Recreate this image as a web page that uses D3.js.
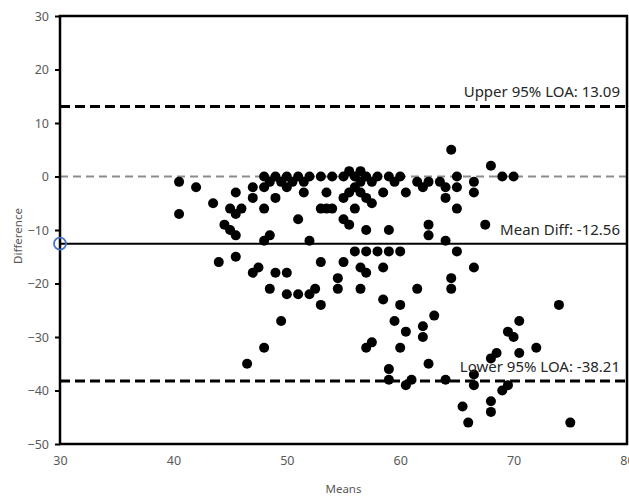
<!DOCTYPE html>
<html>
<head>
<meta charset="utf-8">
<script src="https://cdn.jsdelivr.net/npm/d3@7"></script>
<style>
  body { margin: 0; background: #fff; }
  text { font-family: "Noto Sans", "Open Sans", sans-serif; }
</style>
</head>
<body>
<svg id="chart" width="629" height="497"></svg>
<script>
// Bland-Altman plot: mean of the two methods vs their difference
const means = [40.5, 40.5, 42, 43.5, 44, 44.5, 45, 45.5, 45, 46, 45.5, 45.5, 45.5, 47, 47, 47, 47.5,
  48, 48, 48, 48.5, 48, 48.5, 48.5, 48, 46.5, 49, 49, 49, 49.5, 49.5, 50, 50, 50, 50, 50.5,
  51, 51, 51, 51.5, 51.5, 52, 52, 52, 52.5, 53, 53, 53, 53, 53.5, 53.5, 54, 54, 54.5, 54.5,
  55, 55, 55, 55, 55.5, 55.5, 55.5, 56, 56, 56, 56, 56.5, 56.5, 56.5, 56.5, 56.5,
  57, 57, 57, 57, 57, 57, 57.5, 57.5, 57.5, 58, 58, 58.5, 58.5, 58.5, 59, 59, 59, 59, 59,
  59.5, 59.5, 60, 60, 60, 60, 60.5, 60.5, 60.5, 61, 61.5, 61.5, 62, 62, 62, 62.5, 62.5, 62.5, 62.5,
  63, 63.5, 64, 64, 64, 64, 64.5, 64.5, 64.5, 65, 65, 65, 65, 65.5, 66, 66.5, 66.5, 66.5, 66.5, 66.5,
  67.5, 68, 68, 68, 68, 68.5, 69, 69, 69.5, 69.5, 70, 70, 70.5, 70.5, 72, 74, 75];
const diffs = [-1, -7, -2, -5, -16, -9, -10, -11, -6, -6, -7, -3, -15, -2, -4, -18, -17,
  0, -2, -6, -1, -12, -11, -21, -32, -35, 0, -4, -18, -1, -27, 0, -2, -18, -22, -1,
  0, -8, -22, -1, -3, 0, -12, -22, -21, 0, -6, -16, -24, -3, -6, 0, -6, -19, -21,
  0, -4, -8, -16, 1, -3, -9, 0, -2, -6, -14, 1, -1, -3, -17, -21,
  0, -4, -10, -14, -18, -32, -1, -5, -31, 0, -14, -3, -17, -23, 0, -10, -14, -36, -38,
  -1, -27, 0, -14, -24, -32, -3, -29, -39, -38, -1, -21, -2, -28, -30, -1, -9, -11, -35,
  -26, -1, -2, -4, -12, -38, 5, -19, -21, 0, -2, -6, -14, -43, -46, -1, -3, -17, -37, -39,
  -9, 2, -34, -42, -44, -33, 0, -40, -29, -39, 0, -30, -27, -33, -32, -24, -46];

const meanDiff = -12.56, upperLOA = 13.09, lowerLOA = -38.21;
const xTicks = [30, 40, 50, 60, 70, 80];
const yTicks = [30, 20, 10, 0, -10, -20, -30, -40, -50];

const svg = d3.select("#chart");
const plotL = 60, plotR = 627, plotT = 16, plotB = 444;

const x = d3.scaleLinear().domain([30, 80]).range([plotL, plotR]);
const y = d3.scaleLinear().domain([-50, 30]).range([plotB, plotT]);

// y axis with short outer ticks
const yAxis = svg.append("g")
  .attr("transform", `translate(${plotL},0)`)
  .call(d3.axisLeft(y).tickValues(yTicks).tickSize(5).tickPadding(6));
yAxis.select(".domain").remove();
yAxis.selectAll("line").attr("stroke", "#000").attr("stroke-width", 2);
yAxis.selectAll("text").attr("fill", "#595959").style("font-size", "12.5px")
  .style("font-family", '"Noto Sans", sans-serif');

// x axis labels only (80 runs off the right edge, as in the original)
const xAxis = svg.append("g")
  .attr("transform", `translate(0,${plotB})`)
  .call(d3.axisBottom(x).tickValues(xTicks).tickSize(0).tickPadding(12));
xAxis.select(".domain").remove();
xAxis.selectAll("text").attr("fill", "#595959").style("font-size", "12.5px")
  .style("font-family", '"Noto Sans", sans-serif');

// reference lines
const refs = [
  { v: 0, color: "#8c8c8c", width: 2, dash: "8,5" },
  { v: upperLOA, color: "#000", width: 3, dash: "10,5" },
  { v: lowerLOA, color: "#000", width: 3, dash: "10,5" },
  { v: meanDiff, color: "#000", width: 2, dash: null }
];
svg.selectAll(".ref").data(refs).enter().append("line")
  .attr("class", "ref")
  .attr("x1", plotL).attr("x2", plotR)
  .attr("y1", d => y(d.v)).attr("y2", d => y(d.v))
  .attr("stroke", d => d.color)
  .attr("stroke-width", d => d.width)
  .attr("stroke-dasharray", d => d.dash);

// points
svg.selectAll(".pt").data(means).enter().append("circle")
  .attr("class", "pt")
  .attr("cx", d => x(d))
  .attr("cy", (d, i) => y(diffs[i]))
  .attr("r", 5)
  .attr("fill", "#000");

// frame
svg.append("rect")
  .attr("x", plotL).attr("y", plotT)
  .attr("width", plotR - plotL).attr("height", plotB - plotT)
  .attr("fill", "none").attr("stroke", "#000").attr("stroke-width", 2.5);

// marker of the mean on the y axis
svg.append("circle")
  .attr("cx", x(30)).attr("cy", y(meanDiff)).attr("r", 6)
  .attr("fill", "none").attr("stroke", "#4472C4").attr("stroke-width", 1.8);

// line labels
const labels = [
  { t: "Upper 95% LOA: " + upperLOA.toFixed(2), v: upperLOA },
  { t: "Mean Diff: " + meanDiff.toFixed(2), v: meanDiff },
  { t: "Lower 95% LOA: " + lowerLOA.toFixed(2), v: lowerLOA }
];
svg.selectAll(".lbl").data(labels).enter().append("text")
  .attr("class", "lbl")
  .attr("x", 620)
  .attr("y", d => y(d.v) - 9)
  .attr("text-anchor", "end")
  .attr("fill", "#262626")
  .style("font-size", "15px")
  .text(d => d.t);

// axis titles
svg.append("text")
  .attr("x", (plotL + plotR) / 2).attr("y", 493)
  .attr("text-anchor", "middle").attr("fill", "#595959")
  .style("font-size", "11.5px")
  .text("Means");
svg.append("text")
  .attr("transform", "translate(22,236) rotate(-90)")
  .attr("text-anchor", "middle").attr("fill", "#595959")
  .style("font-size", "11.5px")
  .text("Difference");
</script>
</body>
</html>
